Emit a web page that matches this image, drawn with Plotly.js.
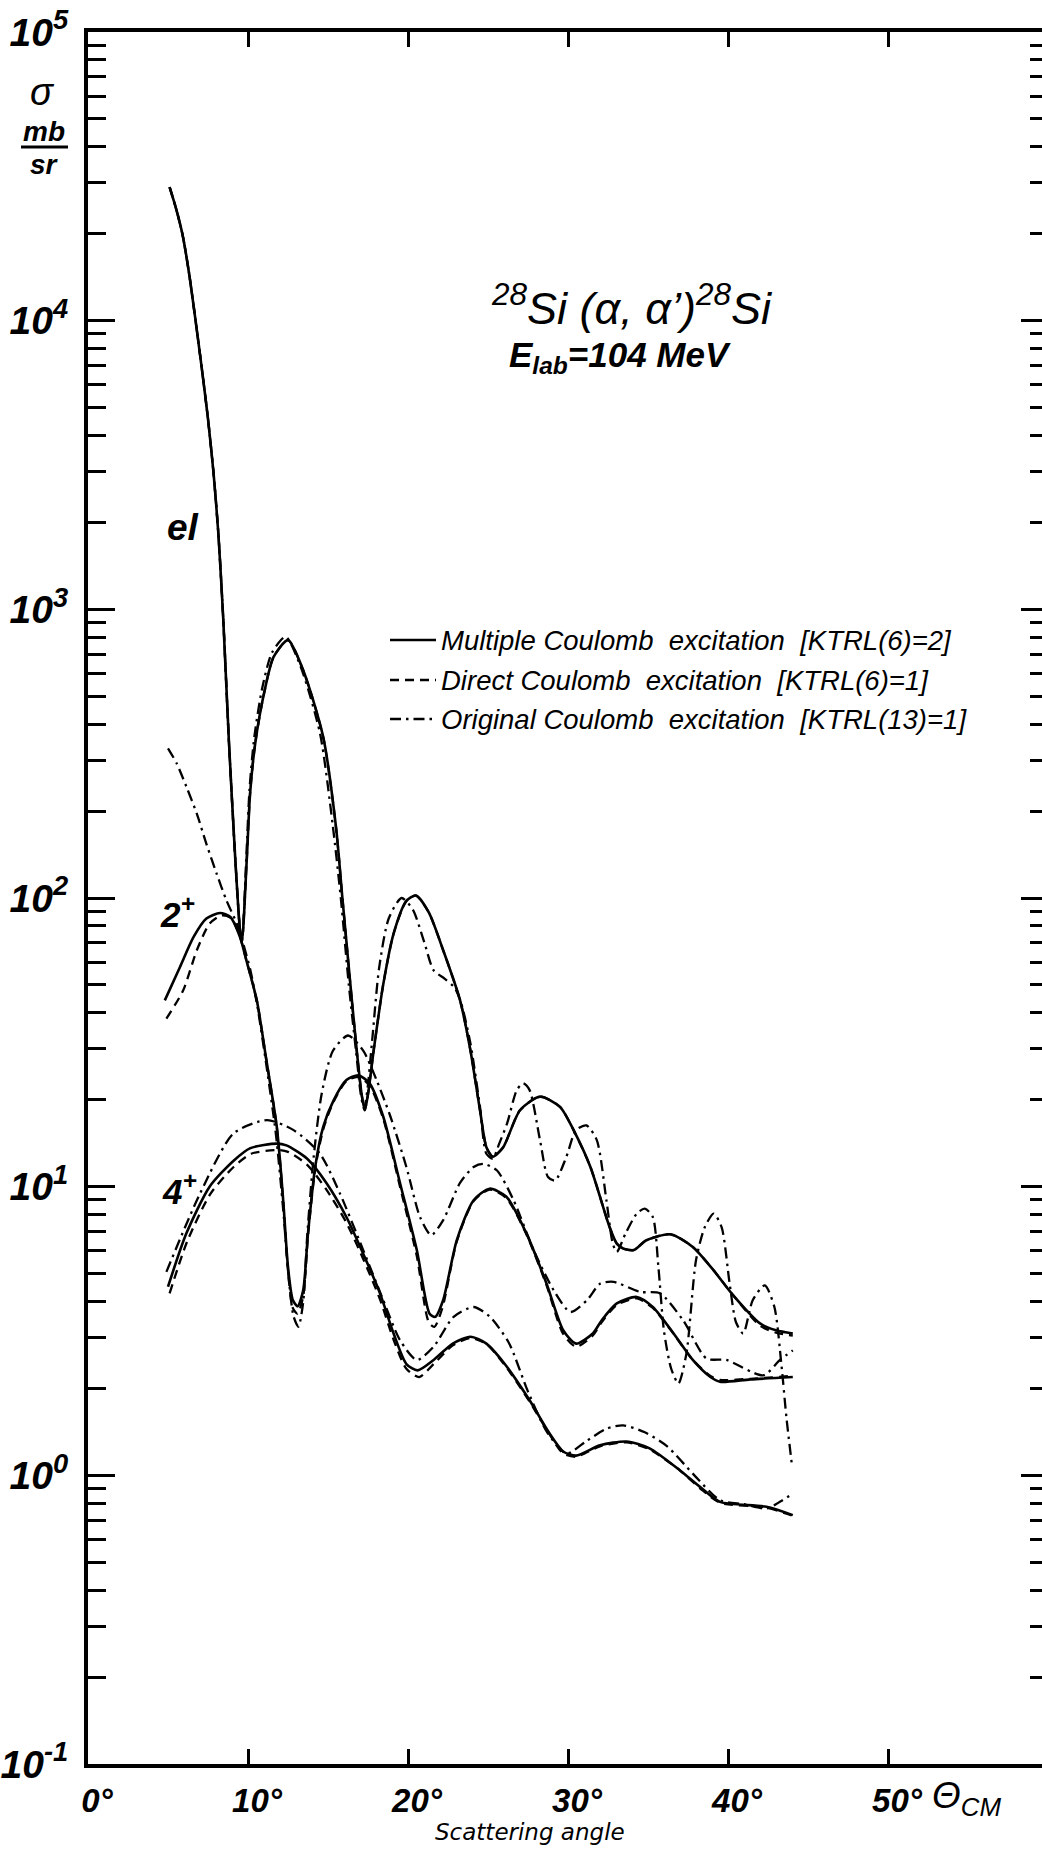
<!DOCTYPE html>
<html><head><meta charset="utf-8">
<script src="https://cdn.plot.ly/plotly-3.0.1.min.js"></script>
<style>html,body{margin:0;padding:0;overflow:hidden;background:#fff}</style>
</head><body><div id="chart" style="width:1050px;height:1849px"></div>
<script>
// ---- data: scattering angle (deg, CM) and cross section (mb/sr) ----
const elMultipleAngle = [5.1,5.5,5.9,6.3,6.7,7.1,7.5,7.85,8.15,8.45,8.8,9.2,9.5,9.62,9.92,10.13,10.45,11.0,11.6,12.5,13.45,14.7,15.5,15.9,16.4,16.8,17.1,17.3,17.5,17.85,18.45,19.1,19.9,20.5,21.3,22.2,23.25,23.9,24.5,24.9,25.3,25.95,27.0,28.25,29.5,30.35,31.4,32.6,33.05,33.45,34.1,34.9,36.4,37.8,39.1,40.3,42.0,43.0,44.05];
const elMultipleSigma = [29000,24500,19950,14800,10230,6920,4570,2950,1820,933,355,138,77.4,70.8,135,230,343,511,684,782,615,361,176,100,50.1,29.5,20.9,18.4,20.9,29.5,50.1,75.3,97.7,102,89.1,65.9,44.3,29.7,18.4,13.7,12.7,13.7,18.4,20.5,18.9,15.7,11.7,7.24,6.35,6.11,6.03,6.52,6.84,6.18,5.13,4.22,3.36,3.18,3.10];
const elDirectAngle = [5.1,5.5,5.9,6.3,6.7,7.1,7.5,7.85,8.15,8.45,8.8,9.2,9.5,9.62,9.92,10.13,10.45,11.0,11.6,12.5,13.45,14.7,15.5,15.9,16.4,16.8,17.1,17.3,17.5,17.85,18.45,19.1,19.9,20.5,21.3,22.2,23.25,23.9,24.5,24.9,25.3,25.95,27.0,28.25,29.5,30.35,31.4,32.6,33.05,33.45,34.1,34.9,36.4,37.8,39.1,40.3,42.0,43.0,44.05];
const elDirectSigma = [29000,24500,19950,14800,10230,6920,4570,2950,1820,933,355,138,77.4,70.8,135,230,343,511,684,782,615,361,176,100,50.1,29.5,20.9,18.4,20.9,29.5,50.1,75.3,97.7,102,89.1,65.9,44.3,29.7,18.4,13.7,12.7,13.7,18.4,20.5,18.9,15.7,11.7,7.24,6.35,6.11,6.03,6.52,6.84,6.18,5.13,4.22,3.30,3.12,3.05];
const elOriginalAngle = [5.1,5.5,5.9,6.3,6.7,7.1,7.5,7.85,8.15,8.45,8.8,9.2,9.5,9.62,9.9,10.1,10.4,10.9,11.5,12.35,13.3,14.5,15.3,15.8,16.3,16.75,17.05,17.25,17.45,17.75,18.2,18.8,19.6,20.3,21.0,21.6,22.3,22.9,23.3,23.9,24.5,24.9,25.3,25.7,26.2,26.8,27.2,27.6,28.25,28.75,29.2,29.9,30.5,31.15,31.8,32.4,32.8,33.05,33.6,34.3,34.8,35.3,35.65,36.0,36.45,36.9,37.4,38.0,38.55,39.1,39.6,40.1,40.5,40.95,41.55,42.3,42.9,43.35,43.65,44.0];
const elOriginalSigma = [29000,24500,19950,14800,10230,6920,4570,2950,1820,933,355,138,77.4,70.8,141,240,363,537,708,803,631,372,178,100,50.1,29.5,20.9,18.6,21.4,31.6,57.5,85.1,100,91.2,70.8,56.2,52.5,49.0,43.7,31.4,18.9,13.0,12.5,14.1,16.6,21.6,22.8,21.6,14.5,10.8,10.5,12.7,15.7,16.3,14.5,8.97,6.35,5.94,6.89,8.07,8.39,7.85,5.27,3.16,2.34,2.08,2.64,5.56,7.24,8.07,7.24,4.63,3.39,3.10,4.05,4.55,3.83,2.38,1.59,1.08];

const twoMultipleAngle = [4.8,5.75,6.6,7.4,8.25,8.9,9.5,9.9,10.55,11.15,11.8,12.2,12.5,12.8,13.1,13.45,13.75,14.2,14.7,15.35,16.15,16.9,17.6,18.45,19.5,20.55,21.35,21.7,22.2,23.05,24.1,25.1,26.15,27.4,28.65,29.7,30.5,31.55,32.1,33.05,34.3,35.3,36.6,37.8,38.9,39.5,41.4,44.05];
const twoMultipleSigma = [44.2,57.7,73.3,84.9,88.7,85.9,73.3,60.8,44.2,27.4,16.1,8.97,5.27,4.05,3.85,4.38,6.89,11.7,16.1,19.9,23.4,24.3,22.8,17.5,10.3,6.03,3.63,3.54,4.05,6.53,8.97,9.84,9.23,6.89,4.63,3.18,2.86,3.10,3.44,3.94,4.15,3.83,3.10,2.51,2.19,2.11,2.15,2.19];
const twoDirectAngle = [4.9,5.95,6.8,7.6,8.35,8.95,9.5,9.9,10.55,11.15,11.8,12.2,12.5,12.8,13.1,13.45,13.75,14.2,14.7,15.35,16.15,16.9,17.6,18.45,19.5,20.55,21.3,21.65,22.15,23.05,24.1,25.1,26.15,27.4,28.65,29.7,30.5,31.55,32.1,33.05,34.3,35.3,36.6,37.8,38.9,39.5,41.4,44.05];
const twoDirectSigma = [38.2,47.9,65.9,81.5,87.1,85.1,73.3,60.8,44.2,27.4,16.1,8.91,5.13,3.80,3.63,4.17,6.76,11.5,15.8,19.7,23.2,24.0,22.4,17.2,10.0,5.75,3.39,3.27,3.80,6.46,8.91,9.77,9.12,6.84,4.57,3.09,2.79,3.05,3.39,3.89,4.10,3.80,3.09,2.51,2.21,2.14,2.16,2.21];
const twoOriginalAngle = [5.0,5.55,6.15,6.8,7.4,8.05,8.65,9.3,9.7,10.15,10.6,11.15,11.75,12.2,12.55,12.85,13.15,13.45,13.7,14.1,14.6,15.3,16.25,17.2,18.05,18.9,19.9,20.75,21.45,22.2,23.25,24.1,24.7,25.55,26.6,27.85,29.1,30.15,31.2,32.0,32.85,34.5,35.75,37.2,38.65,39.9,42.2,43.25,44.05];
const twoOriginalSigma = [330,292,243,196,154,121,98.2,81.5,69.5,56.2,41.7,26.3,15.1,8.32,4.79,3.55,3.27,3.98,6.76,12.6,20.9,29.5,33.4,29.6,23.3,17.5,11.7,7.85,6.79,7.66,10.3,11.7,12.0,11.4,8.97,6.03,4.38,3.68,4.05,4.61,4.68,4.32,4.27,3.44,2.54,2.51,2.22,2.51,2.71];

const fourMultipleAngle = [5.0,6.15,7.6,9.1,10.15,11.8,12.4,13.7,14.9,16.15,17.2,18.25,19.1,19.9,20.6,21.6,22.8,23.9,24.9,26.0,27.6,28.8,29.7,30.5,32.0,33.65,35.1,37.0,38.25,39.5,42.4,44.05];
const fourMultipleSigma = [4.50,6.89,10.0,12.3,13.6,14.1,13.9,12.5,10.3,7.85,5.86,4.27,3.10,2.43,2.31,2.51,2.86,3.02,2.86,2.45,1.82,1.41,1.21,1.17,1.27,1.31,1.24,1.04,0.912,0.809,0.778,0.728];
const fourDirectAngle = [5.1,6.2,7.65,9.1,10.2,11.8,12.5,13.7,14.9,16.15,17.2,18.25,19.1,19.9,20.7,21.6,22.8,23.9,24.9,26.0,27.6,28.8,29.7,30.5,32.0,33.65,35.1,37.0,38.25,39.5,42.4,44.05];
const fourDirectSigma = [4.27,6.46,9.44,11.7,13.0,13.4,13.2,11.9,9.77,7.50,5.62,4.07,2.95,2.34,2.19,2.43,2.82,2.99,2.85,2.43,1.80,1.40,1.19,1.16,1.26,1.30,1.23,1.04,0.902,0.804,0.773,0.724];
const fourOriginalAngle = [4.9,7.0,9.1,11.2,12.85,14.5,15.75,17.2,18.45,19.5,20.55,21.6,22.85,24.1,25.1,26.3,27.5,28.7,29.9,31.2,32.4,33.45,34.8,36.2,37.9,39.5,41.0,42.4,43.3,44.05];
const fourOriginalSigma = [5.07,9.46,15.3,17.0,15.7,13.0,9.46,6.03,4.05,2.94,2.51,2.79,3.54,3.83,3.55,2.88,1.95,1.41,1.19,1.32,1.45,1.49,1.41,1.26,1.00,0.820,0.794,0.767,0.813,0.865];

const seriesNames = ['Multiple Coulomb\u00a0\u00a0excitation\u00a0\u00a0[KTRL(6)=2]',
                     'Direct Coulomb\u00a0\u00a0excitation\u00a0\u00a0[KTRL(6)=1]',
                     'Original Coulomb\u00a0\u00a0excitation\u00a0\u00a0[KTRL(13)=1]'];
const xTickValues = [0,10,20,30,40,50];
const xTickLabels = ['0°','10°','20°','30°','40°','50°'];
const yDecadeExponents = [-1,0,1,2,3,4,5];

// ---- styling ----
const FONT = "'Liberation Sans', Arial, sans-serif";
const WIDE = "'DejaVu Sans', Verdana, sans-serif";
const styles = [
  {dash:'solid', width:2.6},
  {dash:'9px,6px', width:2.3},
  {dash:'11px,5px,2.5px,5px', width:2.3}
];
const groups = [
  [[elMultipleAngle,elMultipleSigma],[elDirectAngle,elDirectSigma],[elOriginalAngle,elOriginalSigma]],
  [[twoMultipleAngle,twoMultipleSigma],[twoDirectAngle,twoDirectSigma],[twoOriginalAngle,twoOriginalSigma]],
  [[fourMultipleAngle,fourMultipleSigma],[fourDirectAngle,fourDirectSigma],[fourOriginalAngle,fourOriginalSigma]]
];
const traces = [];
groups.forEach((g, gi) => {
  g.forEach((s, si) => {
    traces.push({
      x: s[0], y: s[1], type:'scatter', mode:'lines',
      name: seriesNames[si], showlegend:false,
      line: {color:'#000', width: styles[si].width, dash: styles[si].dash, shape:'spline', smoothing:0.7},
      hoverinfo:'skip'
    });
  });
});

// tick positions for the log axis
const majorVals = [], majorText = [], minorVals = [];
yDecadeExponents.forEach(e => {
  majorVals.push(Math.pow(10,e)); majorText.push('10<sup>'+e+'</sup>');
  if (e < 5) [2,3,4,5,6,7,8,9].forEach(d => minorVals.push(d*Math.pow(10,e)));
});

// layout helpers (page pixels -> paper)
const L0 = 88, PW = 960, T0 = 32, B0 = 1764;
const px = v => (v - L0) / PW;
const py = v => (B0 - v) / (B0 - T0);
function ann(text, x, y, size, opts) {
  return Object.assign({text, x:px(x), y:py(y), xref:'paper', yref:'paper', showarrow:false,
    xanchor:'center', yanchor:'middle',
    font:{family:FONT, size, color:'#000', style:'italic'}}, opts||{});
}

// hand-placed legend (sample line + label)
const legendRows = [640, 680, 719];
const legendShapes = legendRows.map((yy, i) => ({type:'line', xref:'paper', yref:'paper',
  x0:px(390), x1:px(436), y0:py(yy), y1:py(yy), line:{color:'#000', width:styles[i].width, dash:styles[i].dash}}));
const legendAnns = legendRows.map((yy, i) => ann(seriesNames[i], 439, yy, 27.5, {xanchor:'left'}));

const layout = {
  width:1050, height:1849,
  margin:{l:L0, r:2, t:T0, b:1849-B0, pad:0},
  paper_bgcolor:'#fff', plot_bgcolor:'#fff',
  showlegend:false,
  xaxis:{range:[0,60], tickmode:'array', tickvals:xTickValues, ticktext:xTickLabels,
    ticks:'inside', ticklen:15, tickwidth:3, tickcolor:'#000',
    showline:true, linewidth:4, linecolor:'#000', mirror:'ticks',
    showgrid:false, zeroline:false, ticklabelstandoff:4, ticklabelshift:9,
    tickfont:{family:FONT, size:33, color:'#000', style:'italic', weight:'bold'}},
  yaxis:{type:'log', range:[-1,5], tickmode:'array', tickvals:majorVals, ticktext:majorText,
    ticks:'inside', ticklen:27, tickwidth:3, tickcolor:'#000',
    minor:{tickmode:'array', tickvals:minorVals, ticks:'inside', ticklen:18, tickwidth:3, tickcolor:'#000', showgrid:false},
    showline:true, linewidth:4, linecolor:'#000', mirror:'ticks',
    showgrid:false, zeroline:false, ticklabelstandoff:8,
    tickfont:{family:FONT, size:39, color:'#000', style:'italic', weight:'bold'}},
  annotations:[
    ann('σ', 42, 92, 38),
    ann('<b>mb</b>', 44, 131, 28),
    ann('<b>sr</b>', 44, 164, 28),
    ann('<b>el</b>', 183, 527, 37),
    ann('<b>2<sup>+</sup></b>', 177, 912, 35),
    ann('<b>4<sup>+</sup></b>', 179, 1189, 35),
    ann('<sup>28</sup>Si (α, α\u2019)<sup>28</sup>Si', 632, 305, 45),
    ann('<b>E<sub>lab</sub>=104 MeV</b>', 620, 357, 35),
    ann('Scattering angle', 530, 1832, 23, {font:{family:WIDE, size:23, color:'#000', style:'italic'}}),
    ann('Θ<sub>CM</sub>', 966, 1798, 37)
  ].concat(legendAnns),
  shapes:[
    {type:'line', xref:'paper', yref:'paper', x0:px(21), x1:px(68), y0:py(147), y1:py(147), line:{color:'#000', width:3}}
  ].concat(legendShapes)
};

Plotly.newPlot('chart', traces, layout, {staticPlot:true, displayModeBar:false});
</script>
</body></html>
